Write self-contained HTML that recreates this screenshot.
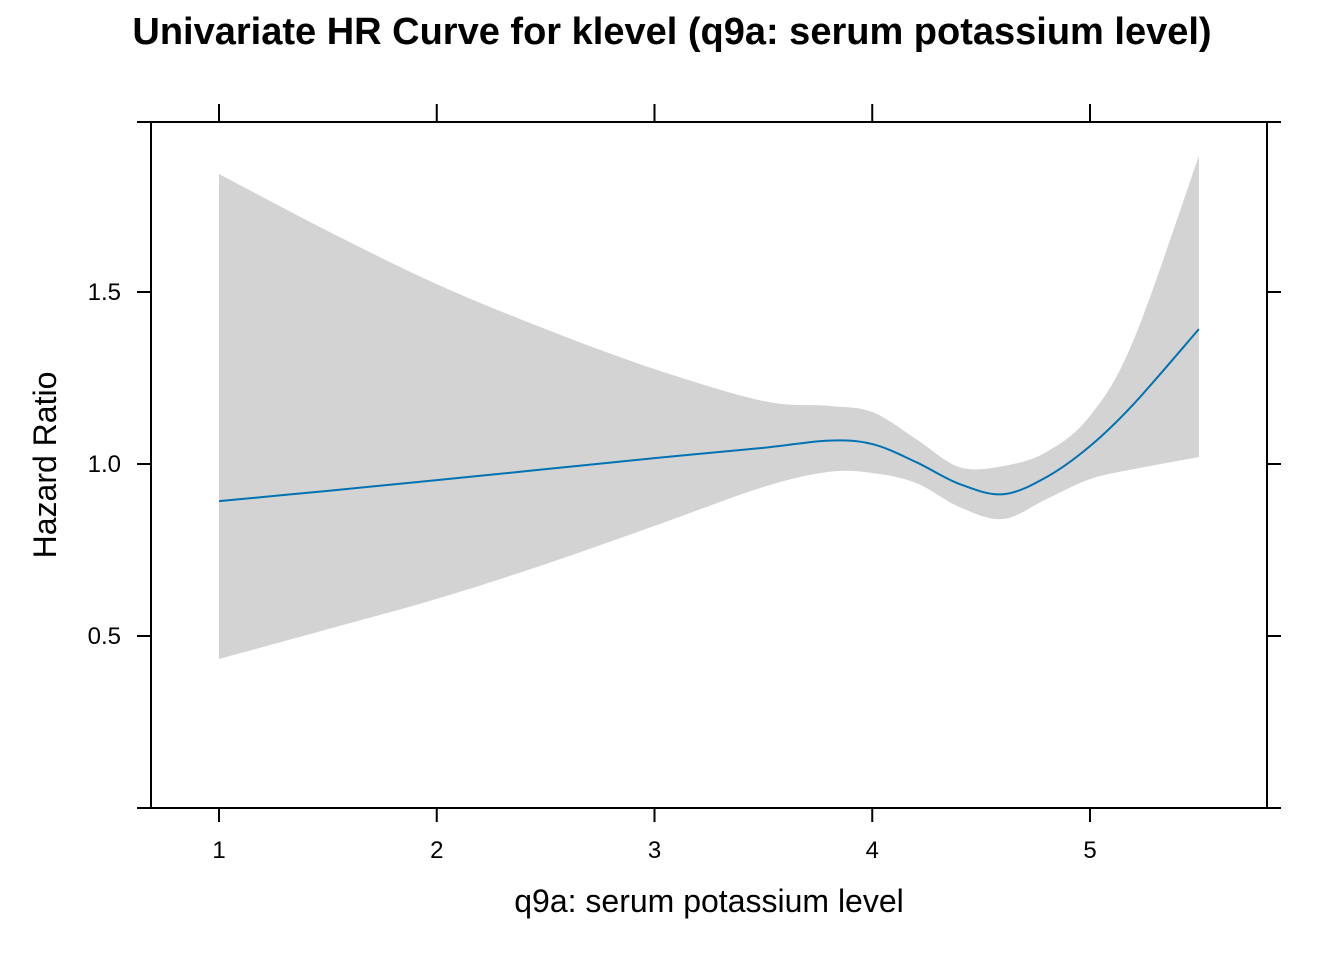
<!DOCTYPE html>
<html><head><meta charset="utf-8"><style>
body{margin:0;background:#fff}
svg text{font-family:"Liberation Sans",sans-serif}
</style></head><body>
<svg id="chart" width="1344" height="960" xmlns="http://www.w3.org/2000/svg">
<text x="672" y="44" text-anchor="middle" font-size="38" font-weight="bold">Univariate HR Curve for klevel (q9a: serum potassium level)</text>
<g id="band"></g><g id="line"></g><g id="axes"></g>
<text x="709" y="912" text-anchor="middle" font-size="32">q9a: serum potassium level</text>
<text transform="translate(56,465) rotate(-90)" text-anchor="middle" font-size="32">Hazard Ratio</text>
</svg>
<script>
const xs=[1,1.5,2,2.5,3,3.5,3.8,4.0,4.2,4.4,4.6,4.8,5.0,5.2,5.5];
const hr=[0.892,0.922,0.953,0.985,1.017,1.047,1.068,1.058,1.006,0.942,0.912,0.962,1.052,1.174,1.392];
const upper=[1.843,1.677,1.523,1.392,1.276,1.183,1.169,1.151,1.073,0.991,0.994,1.035,1.14,1.36,1.895];
const lower=[0.433,0.520,0.608,0.709,0.820,0.933,0.977,0.974,0.945,0.875,0.840,0.898,0.956,0.985,1.020];
const xTicks=[1,2,3,4,5];
const yTicks=[0.5,1.0,1.5];
const L=151,R=1267,T=122,B=808;
const X=v=>219+(v-1)*217.75;
const Y=v=>808-v*344;
const NS='http://www.w3.org/2000/svg';
function mk(t,a,p){const e=document.createElementNS(NS,t);for(const k in a)e.setAttribute(k,a[k]);p.appendChild(e);return e;}
function curve(pts){let d='M'+pts[0][0]+','+pts[0][1];
 for(let i=0;i<pts.length-1;i++){const p0=pts[Math.max(i-1,0)],p1=pts[i],p2=pts[i+1],p3=pts[Math.min(i+2,pts.length-1)];
 d+=' C'+(p1[0]+(p2[0]-p0[0])/6)+','+(p1[1]+(p2[1]-p0[1])/6)+' '+(p2[0]-(p3[0]-p1[0])/6)+','+(p2[1]-(p3[1]-p1[1])/6)+' '+p2[0]+','+p2[1];}
 return d;}
const up=xs.map((x,i)=>[X(x),Y(upper[i])]);
const lo=xs.map((x,i)=>[X(x),Y(lower[i])]).reverse();
const bd=curve(up)+' L'+curve(lo).slice(1)+' Z';
const band=mk('path',{d:bd,fill:'#d3d3d3',stroke:'none'},document.getElementById('band'));


const ln=mk('path',{d:curve(xs.map((x,i)=>[X(x),Y(hr[i])])),fill:'none',stroke:'#0072b2','stroke-width':2},document.getElementById('line'));


const ax=document.getElementById('axes');
const box=mk('rect',{x:L,y:T,width:R-L,height:B-T,fill:'none',stroke:'#000','stroke-width':2},ax);


xTicks.forEach(v=>{
 mk('line',{x1:X(v),x2:X(v),y1:B,y2:B+14,stroke:'#000','stroke-width':2},ax);
 mk('line',{x1:X(v),x2:X(v),y1:T,y2:T-18,stroke:'#000','stroke-width':2},ax);
 const t=mk('text',{x:X(v),y:858,'text-anchor':'middle','font-size':24},ax);t.textContent=v;
 
 
});
[0,2].forEach(v=>{mk('line',{x1:L-14,x2:L,y1:Math.max(Y(v),T),y2:Math.max(Y(v),T),stroke:'#000','stroke-width':2},ax);
 mk('line',{x1:R,x2:R+14,y1:Math.max(Y(v),T),y2:Math.max(Y(v),T),stroke:'#000','stroke-width':2},ax);});
yTicks.forEach(v=>{
 mk('line',{x1:L-14,x2:L,y1:Y(v),y2:Y(v),stroke:'#000','stroke-width':2},ax);
 mk('line',{x1:R,x2:R+14,y1:Y(v),y2:Y(v),stroke:'#000','stroke-width':2},ax);
 const t=mk('text',{x:121,y:Y(v)+8,'text-anchor':'end','font-size':24},ax);t.textContent=v.toFixed(1);
 
 
});
</script>
</body></html>
